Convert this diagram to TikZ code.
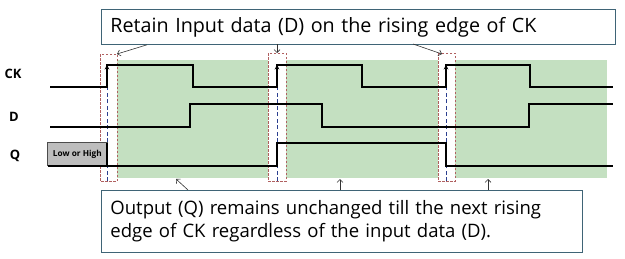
\documentclass[tikz,border=0pt]{standalone}
\usepackage{fontspec}
\setmainfont{Open Sans}
\usetikzlibrary{arrows.meta}
\definecolor{grn}{HTML}{C4E0C1}
\definecolor{boxc}{HTML}{3F6476}
\definecolor{redd}{HTML}{B06060}
\definecolor{blued}{HTML}{2B3F8F}
\definecolor{grayfill}{HTML}{BDBDBD}
\tikzset{
  sig/.style={line width=1.5bp, black, line join=miter},
  edgebox/.style={redd, line width=0.7bp, dash pattern=on 2.5bp off 1.5bp},
  trig/.style={blued, line width=0.8bp, dash pattern=on 4bp off 2.5bp},
  callout/.style={draw=boxc, line width=0.8bp, fill=white, align=left, anchor=north west, inner xsep=9bp, inner ysep=0bp},
  pointer/.style={line width=0.6bp, black!80, -{Straight Barb[length=3bp,width=6bp]}},
  signame/.style={font=\bfseries\fontsize{13}{13}\selectfont},
}
\begin{document}
\begin{tikzpicture}[x=1bp,y=-1bp]
\useasboundingbox (0,0) rectangle (625,258);
% shaded regions
\fill[grn] (117,60) rectangle (268,178);
\fill[grn] (286,60) rectangle (438,178);
\fill[grn] (455,60) rectangle (607,178);
% edge boxes
\draw[edgebox] (100,54) rectangle (117,181);
\draw[edgebox] (268,53) rectangle (286,181);
\draw[edgebox] (438,53) rectangle (455,181);
% trigger lines
\draw[trig] (107,181) -- (107,70);
\draw[trig] (277,181) -- (277,70);
\draw[trig] (446,181) -- (446,70);
% labels
\node[signame] (ck) at (13,74) {CK};
\node[signame] (d) at (14,117) {D};
\node[signame] (q) at (15,156) {Q};
% CK
\draw[sig] (50,87) -- (107,87) -- (107,65) -- (193,65) -- (193,87) -- (277,87) -- (277,65) -- (362,65) -- (362,87) -- (446,87) -- (446,65) -- (530,65) -- (530,87) -- (613,87);
\foreach \x in {107,277,446}{
  \draw[black, line width=1.2bp, -{Stealth[length=5bp,width=4.5bp]}] (\x,80) -- (\x,64.5);
}
% D
\draw[sig] (50,127) -- (190,127) -- (190,104) -- (322,104) -- (322,127) -- (529,127) -- (529,104) -- (613,104);
% Q
\node[draw=black!70, fill=grayfill, line width=0.7bp, minimum width=60bp, minimum height=23bp, inner sep=0pt, anchor=north west, font=\bfseries\fontsize{8.3}{8.3}\selectfont] (unk) at (47,142) {Low or High};
\draw[sig] (48,166) -- (277,166) -- (277,143) -- (446,143) -- (446,166) -- (613,166);
\draw[sig] (107,143) -- (107,166);
% callouts
\node[callout, minimum width=514bp, minimum height=35bp, text width=496bp, font=\fontsize{19.8}{22}\selectfont] (top) at (101,9) {Retain Input data (D) on the rising edge of CK};
\node[callout, minimum width=481bp, minimum height=62bp, text width=463bp, font=\fontsize{18.6}{23}\selectfont] (bot) at (101,190) {Output (Q) remains unchanged till the next rising\\edge of CK regardless of the input data (D).};
\coordinate (t1) at (117,54);
\coordinate (t2) at (277,53);
\coordinate (t3) at (442,54);
\draw[pointer] (top.south west) ++(46,0) -- (t1);
\draw[pointer] (277,44) -- (t2);
\draw[pointer] (413,44) -- (t3);
\coordinate (b1) at (176,179);
\coordinate (b2) at (340,179);
\coordinate (b3) at (488,179);
\draw[pointer] (188,190) -- (b1);
\draw[pointer] (340,190) -- (b2);
\draw[pointer] (488,190) -- (b3);
\end{tikzpicture}
\end{document}
